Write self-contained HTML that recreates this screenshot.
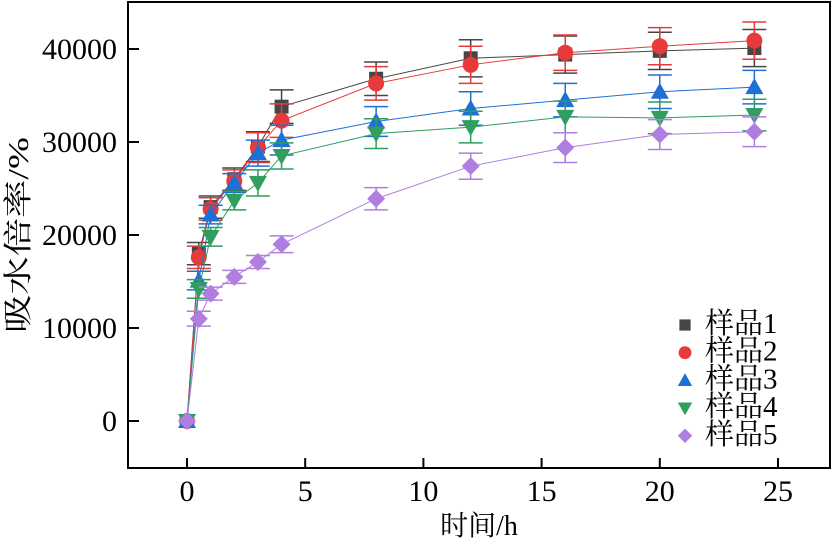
<!DOCTYPE html>
<html><head><meta charset="utf-8"><style>
html,body{margin:0;padding:0;background:#fff;}
svg{display:block;font-family:"Liberation Serif","Noto Serif CJK SC",serif;}
</style></head><body>
<svg id="chart" width="834" height="548" viewBox="0 0 834 548">
<g id="plot"></g>
</svg>
<script>
const times=[0,0.5,1,2,3,4,8,12,16,20,24];
const s1=[0,18000,23000,26000,29500,33800,36800,39000,39400,39800,40100];
const s2=[0,17600,22800,25800,29400,32300,36300,38300,39600,40300,40900];
const s3=[0,15100,22200,25600,28800,30200,32200,33600,34500,35400,35900];
const s4=[0,14200,19800,23700,25600,28500,30900,31600,32700,32600,32900];
const s5=[0,11000,13700,15500,17100,19000,23900,27400,29400,30800,31100];
const e1=[0,1200,1200,1200,1600,1800,1800,2000,2000,2000,2000];
const e2=[0,1200,1200,1200,1600,1800,1800,2000,1900,2000,2000];
const e3=[0,1000,1000,1000,1400,1600,1600,1800,1800,1800,1800];
const e4=[0,1000,1000,1000,1400,1400,1600,1700,1700,1700,1700];
const e5=[0,800,700,700,700,900,1200,1400,1600,1600,1600];
const seriesNames=["样品1","样品2","样品3","样品4","样品5"];
const xTicks=[0,5,10,15,20,25];
const yTicks=[0,10000,20000,30000,40000];
const NS="http://www.w3.org/2000/svg";
const L=128,R=830,T=2,B=468;
function xs(v){return 187+v*23.64;}
function ys(v){return 421-v*0.0093;}
const svg=document.getElementById('chart');
const g=document.getElementById('plot');
function mk(tag,attrs,parent){const e=document.createElementNS(NS,tag);for(const k in attrs)e.setAttribute(k,attrs[k]);(parent||g).appendChild(e);return e;}
const frame=mk('rect',{x:L,y:T,width:R-L,height:B-T,fill:'none',stroke:'#000','stroke-width':2});


xTicks.forEach(t=>{
 const l=mk('line',{x1:xs(t),x2:xs(t),y1:B,y2:B-10,stroke:'#000','stroke-width':2});
 
 
 const tx=mk('text',{x:xs(t),y:501,'text-anchor':'middle','font-size':30});
 tx.textContent=t;
 
 
});
yTicks.forEach(t=>{
 const l=mk('line',{x1:L,x2:L+11,y1:ys(t),y2:ys(t),stroke:'#000','stroke-width':2});
 
 
 const tx=mk('text',{x:117,y:ys(t)+10,'text-anchor':'end','font-size':30});
 tx.textContent=t;
 
 
});
const xt=mk('text',{x:479,y:535,'text-anchor':'middle','font-size':28});
xt.textContent='时间/h';


const yt=mk('text',{x:0,y:0,'text-anchor':'middle','font-size':29,textLength:196,lengthAdjust:'spacingAndGlyphs',transform:'translate(28,235) rotate(-90)'});
yt.textContent='吸水倍率/%';


const colors=['#464646','#e83a3a','#1e6fd6','#2f9e5f','#b07de0'];
const shapes=['square','circle','up','down','diamond'];
const data=[s1,s2,s3,s4,s5];
const errs=[e1,e2,e3,e4,e5];
function marker(shape,x,y,c,parent,k){
 k=k||1;
 if(shape==='square')return mk('rect',{x:x-7*k,y:y-7*k,width:14*k,height:14*k,fill:c},parent);
 if(shape==='circle')return mk('circle',{cx:x,cy:y,r:8*k,fill:c},parent);
 if(shape==='up')return mk('polygon',{points:`${x},${y-9*k} ${x+9*k},${y+7*k} ${x-9*k},${y+7*k}`,fill:c},parent);
 if(shape==='down')return mk('polygon',{points:`${x},${y+9*k} ${x+9*k},${y-7*k} ${x-9*k},${y-7*k}`,fill:c},parent);
 return mk('polygon',{points:`${x},${y-9*k} ${x+9*k},${y} ${x},${y+9*k} ${x-9*k},${y}`,fill:c},parent);
}
data.forEach((s,i)=>{
 const grp=mk('g',{});
 
 
 const pl=mk('polyline',{points:s.map((v,j)=>xs(times[j])+','+ys(v)).join(' '),fill:'none',stroke:colors[i],'stroke-width':1},grp);
 
 
 s.forEach((v,j)=>{
  const e=errs[i][j];
  if(e>0){
   const x=xs(times[j]);
   const eb=mk('path',{d:`M${x},${ys(v-e)}V${ys(v+e)}M${x-12},${ys(v-e)}H${x+12}M${x-12},${ys(v+e)}H${x+12}`,stroke:colors[i],'stroke-width':1.5,fill:'none'},grp);
   
   
  }
  const m=marker(shapes[i],xs(times[j]),ys(v),colors[i],grp);
  
  
 });
});
const lg=mk('g',{});


seriesNames.forEach((n,i)=>{
 const y=325+i*27.7;
 const m=marker(shapes[i],685,y,colors[i],lg,0.8);
 
 
 const t=mk('text',{x:705,y:y+8,'font-size':29},lg);
 t.textContent=n;
 
 
});
</script>
</body></html>
